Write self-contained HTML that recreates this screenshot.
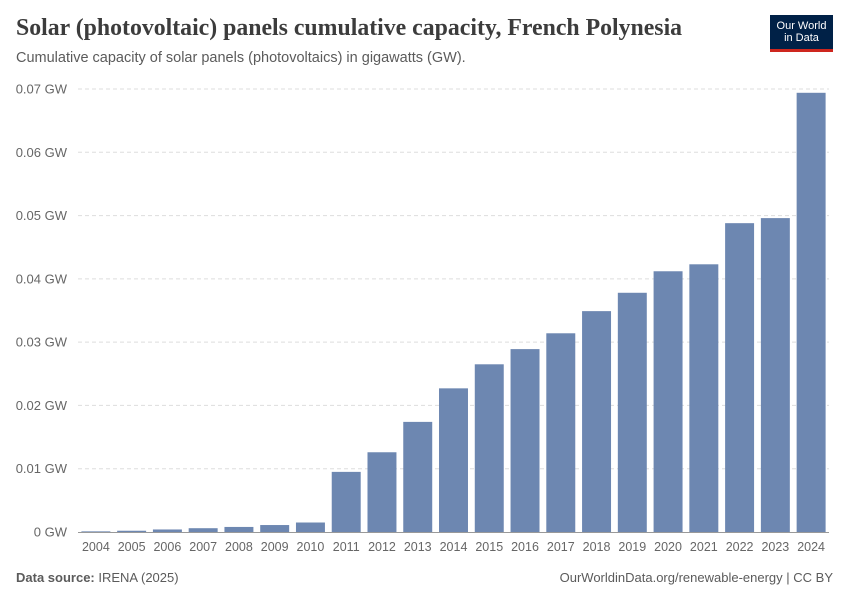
<!DOCTYPE html>
<html><head><meta charset="utf-8"><style>
body{margin:0;background:#fff;font-family:"Liberation Sans",sans-serif;}
#wrap{position:relative;width:850px;height:600px;overflow:hidden;}
.t{position:absolute;white-space:nowrap;}
</style></head><body>
<div id="wrap">
<div class="t" style="left:16px;top:15px;font-family:'Liberation Serif',serif;font-size:23.8px;font-weight:bold;color:#3c3c3c;">Solar (photovoltaic) panels cumulative capacity, French Polynesia</div>
<div class="t" style="left:16px;top:50px;font-size:14.5px;color:#5b5b5b;">Cumulative capacity of solar panels (photovoltaics) in gigawatts (GW).</div>
<div style="position:absolute;left:770px;top:15px;width:63px;height:37px;background:#002147;border-bottom:3px solid #ce261e;box-sizing:border-box;color:#fff;font-size:11px;line-height:12px;text-align:center;padding-top:5px;">Our World<br>in Data</div>
<svg id="svg" width="850" height="600" style="position:absolute;left:0;top:0;"></svg>
<div class="t" style="left:16px;top:570px;font-size:13px;color:#5b5b5b;"><b>Data source:</b> IRENA (2025)</div>
<div class="t" style="right:17px;top:570px;font-size:13px;color:#5b5b5b;">OurWorldinData.org/renewable-energy | CC BY</div>
</div>
<script>
const years=["2004","2005","2006","2007","2008","2009","2010","2011","2012","2013","2014","2015","2016","2017","2018","2019","2020","2021","2022","2023","2024"];
const values=[0.0001,0.0002,0.0004,0.0006,0.0008,0.0011,0.0015,0.0095,0.0126,0.0174,0.0227,0.0265,0.0289,0.0314,0.0349,0.0378,0.0412,0.0423,0.0488,0.0496,0.0694];
const ticks=[0,0.01,0.02,0.03,0.04,0.05,0.06,0.07];
const tickLabels=["0 GW","0.01 GW","0.02 GW","0.03 GW","0.04 GW","0.05 GW","0.06 GW","0.07 GW"];
const NS="http://www.w3.org/2000/svg";
const svg=document.getElementById('svg');
const y0=532,yTop=89,x0=78,x1=829;
const y=v=>y0-(v/0.07)*(y0-yTop);
const step=(x1-x0)/years.length;
const x=i=>x0+step*i+step/2;
const bw=step*0.81;
function mk(t,a){const e=document.createElementNS(NS,t);for(const k in a)e.setAttribute(k,a[k]);svg.appendChild(e);return e;}
ticks.forEach((v,i)=>{
 if(i>0){const l=mk('line',{x1:x0,x2:x1,y1:y(v),y2:y(v),stroke:'#ddd','stroke-dasharray':'4,3'});
 
 }
 const t=mk('text',{x:67,y:y(v)+4.5,'text-anchor':'end','font-size':13,fill:'#666','font-family':'Liberation Sans, sans-serif'});
 t.textContent=tickLabels[i];
 
 
});
values.forEach((v,i)=>{
 const r=mk('rect',{x:x(i)-bw/2,y:y(v),width:bw,height:y0-y(v),fill:'#6d87b1'});
 
 
 const t=mk('text',{x:x(i),y:551,'text-anchor':'middle','font-size':12.5,fill:'#666','font-family':'Liberation Sans, sans-serif'});
 t.textContent=years[i];
 
 
});
const ax=mk('line',{x1:x0,x2:x1,y1:y0+0.5,y2:y0+0.5,stroke:'#999'});


</script>
</body></html>
